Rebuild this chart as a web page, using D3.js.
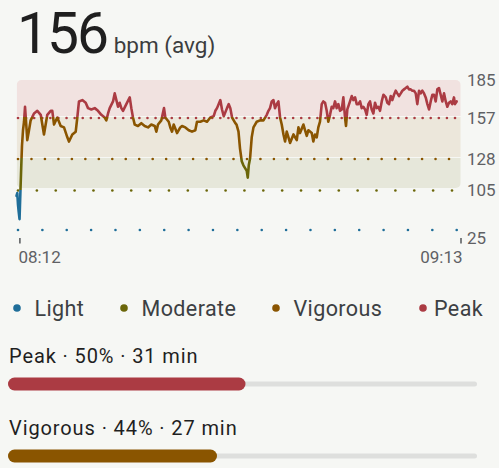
<!DOCTYPE html>
<html><head><meta charset="utf-8">
<script src="https://cdn.jsdelivr.net/npm/d3@7"></script>
<style>
html,body{margin:0;padding:0;background:#f6f7f4;}
svg{display:block;font-family:Roboto,"Noto Sans",sans-serif;}
</style>
</head><body>
<svg id="c" width="499" height="468"></svg>
<script>
// ---------- data ----------
const avgBpm = 156;
const zoneNames = ["Light", "Moderate", "Vigorous", "Peak"];
const zoneColors = ["#1f6e99", "#6b6609", "#8a5500", "#ab3b43"];
const zoneLower = [25, 105, 128, 157];
const axisMax = 185;
const yTickValues = [185, 157, 128, 105, 25];
const timeTicks = [12, 73];            // minutes after 08:00
const timeLabels = ["08:12", "09:13"];
const minutes = [11.53,11.64,11.74,11.84,11.95,12.01,12.08,12.15,12.22,12.29,12.43,12.57,12.71,12.84,13.02,13.26,13.49,13.95,14.41,14.88,15.33,15.79,16.26,16.48,16.72,17.17,17.64,18.10,18.56,18.79,19.25,19.72,19.94,20.17,20.63,21.10,21.42,21.88,22.35,22.80,23.26,23.73,23.95,24.19,24.42,24.88,25.11,25.57,25.80,26.03,26.26,26.72,27.19,27.41,27.64,27.88,28.33,28.79,29.26,29.72,30.17,30.64,30.87,31.10,31.56,31.93,32.11,32.58,32.80,33.04,33.27,33.73,34.18,34.42,34.88,35.35,35.80,36.26,36.49,36.95,37.42,37.88,38.33,38.80,39.03,39.26,39.72,39.95,40.19,40.64,40.88,41.10,41.34,41.57,41.79,41.96,42.23,42.44,42.68,42.91,43.14,43.37,43.51,43.65,43.83,44.06,44.30,44.52,44.75,45.21,45.68,46.14,46.37,46.59,46.83,47.06,47.28,47.52,47.75,47.98,48.21,48.45,48.67,48.90,49.14,49.36,49.83,50.29,50.52,50.74,51.21,51.43,51.67,51.90,52.36,52.58,52.81,53.05,53.27,53.50,53.74,53.96,54.20,54.43,54.65,54.89,55.12,55.34,55.58,55.81,56.04,56.27,56.51,56.73,56.96,57.10,57.28,57.65,57.89,58.11,58.35,58.58,58.80,59.04,59.27,59.49,59.73,59.96,60.19,60.42,60.65,60.88,61.11,61.35,61.57,61.80,62.04,62.27,62.60,62.81,63.05,63.28,63.50,63.74,63.97,64.19,64.43,64.67,64.89,65.12,65.36,65.58,65.81,66.05,66.27,66.50,66.74,66.96,67.20,67.43,67.65,67.89,68.12,68.35,68.58,68.81,69.04,69.27,69.50,69.73,69.96,70.19,70.42,70.65,70.89,71.11,71.34,71.57,71.79,72.03,72.16,72.40];
const bpm = [93,99,75,60,46,73,105,116,127,137,148,154,165,155,141,148,155,160,162,159,145,159,162,162,152,157,151,150,143,140,145,147,157,169,170,168,164,163,164,162,159,157,155,160,164,169,175,165,168,164,162,167,172,164,157,152,151,153,151,150,152,151,147,152,155,164,157,154,150,147,152,146,150,151,150,148,147,148,154,154,155,154,157,158,162,164,170,163,158,164,167,164,157,155,153,152,147,135,126,123,121,119,114,123,128,143,150,152,154,155,155,159,162,164,169,170,164,167,169,157,152,145,140,147,143,139,145,141,150,146,152,148,144,148,146,140,145,143,150,154,167,169,168,162,154,159,165,164,169,164,167,162,163,172,157,151,163,169,173,170,172,167,167,169,164,165,163,159,167,169,163,160,168,164,165,162,169,174,172,168,167,173,170,174,177,175,173,175,177,178,179,180,178,178,177,177,175,167,177,175,177,175,172,167,163,169,174,174,169,178,179,174,169,175,169,165,168,169,167,172,167,169];
const summaryZones = ["Peak", "Vigorous"];
const summaryPct = [50, 44];
const summaryMin = [31, 27];

// ---------- layout ----------
const svg = d3.select("#c");
const bandColors = ["none", "#e6e7da", "#ece7db", "#f1e2e0"];
const dotCounts = [19, 24, 33, 55];
const dotEnds = [456.7, 452, 449, 455];

const x = d3.scaleLinear().domain([11.6, 73]).range([17, 461]);
const y = d3.scaleLinear().domain([25, 105, 128, 157, 185]).range([229.5, 190, 158.5, 117.5, 80]);

// title
const title = svg.append("text").attr("x", 17).attr("y", 53);
title.append("tspan").text(avgBpm).attr("font-size", 57).attr("fill", "#1f1f1f").attr("letter-spacing", -2);
title.append("tspan").text(" bpm (avg)").attr("font-size", 22.5).attr("fill", "#3c3d3e").attr("dx", 1);

// bands
const defs = svg.append("defs");
defs.append("clipPath").attr("id", "bandClip").append("rect")
  .attr("x", 16.7).attr("y", y(axisMax)).attr("width", 460.7 - 16.7)
  .attr("height", y(105) - 2 - y(axisMax)).attr("rx", 5);
const bandG = svg.append("g").attr("clip-path", "url(#bandClip)");
for (let i = 1; i < 4; i++) {
  const top = i === 3 ? y(axisMax) : y(zoneLower[i + 1]) - 0.5;
  const bottom = y(zoneLower[i]) - 1.5;
  bandG.append("rect").attr("x", 16.7).attr("width", 444).attr("y", top)
    .attr("height", bottom - top).attr("fill", bandColors[i]);
}

// dotted threshold lines
zoneLower.forEach((t, i) => {
  const xs = d3.range(dotCounts[i]).map(k => 18 + k * (dotEnds[i] - 18) / (dotCounts[i] - 1));
  svg.append("g").selectAll("circle").data(xs).join("circle")
    .attr("cx", d => d).attr("cy", y(t) + 0.5).attr("r", 1.3).attr("fill", zoneColors[i]);
});

// gradient for line
const grad = defs.append("linearGradient").attr("id", "zoneGrad")
  .attr("gradientUnits", "userSpaceOnUse").attr("x1", 0).attr("x2", 0)
  .attr("y1", y(axisMax)).attr("y2", y(25));
const span = y(25) - y(axisMax);
const off = v => (y(v) - y(axisMax)) / span;
grad.append("stop").attr("offset", 0).attr("stop-color", zoneColors[3]);
for (let i = 3; i >= 1; i--) {
  grad.append("stop").attr("offset", off(zoneLower[i])).attr("stop-color", zoneColors[i]);
  grad.append("stop").attr("offset", off(zoneLower[i])).attr("stop-color", zoneColors[i - 1]);
}
grad.append("stop").attr("offset", 1).attr("stop-color", zoneColors[0]);

const series = minutes.map((m, i) => ({ m, v: bpm[i] }));
svg.append("path").datum(series)
  .attr("d", d3.line().x(d => x(d.m)).y(d => y(d.v)))
  .attr("fill", "none").attr("stroke", "url(#zoneGrad)")
  .attr("stroke-width", 2.6).attr("stroke-linejoin", "round").attr("stroke-linecap", "round");

// y labels
svg.append("g").selectAll("text").data(yTickValues).join("text")
  .attr("x", 467).attr("y", d => y(d) + (d === 25 ? 8 : 0))
  .attr("dy", "0.36em").attr("font-size", 17).attr("fill", "#5f6164").text(d => d);

// x ticks
svg.append("g").selectAll("line").data(timeTicks).join("line")
  .attr("x1", d => x(d)).attr("x2", d => x(d)).attr("y1", 238).attr("y2", 243.5)
  .attr("stroke", "#5f6164").attr("stroke-width", 1.6);
svg.append("g").selectAll("text").data(timeTicks).join("text")
  .attr("x", d => x(d)).attr("y", 263)
  .attr("text-anchor", (d, i) => i === 0 ? "start" : "end")
  .attr("dx", (d, i) => i === 0 ? -1.5 : 1.5)
  .attr("font-size", 17).attr("fill", "#5f6164").text((d, i) => timeLabels[i]);

// legend
const legendX = [17, 124, 276, 423];
const lg = svg.append("g").selectAll("g").data(zoneNames).join("g")
  .attr("transform", (d, i) => `translate(${legendX[i]},308)`);
lg.append("circle").attr("r", 3.8).attr("fill", (d, i) => zoneColors[i]);
lg.append("text").attr("x", (d, i) => i === 3 ? 11 : 17.5).attr("dy", "0.36em")
  .attr("font-size", 21.5).attr("letter-spacing", 0.4).attr("fill", "#3c4043").text(d => d);

// summary bars
const barX = d3.scaleLinear().domain([0, 100]).range([8, 483]);
const rowsY = [384, 456];
summaryZones.forEach((z, i) => {
  const ci = zoneNames.indexOf(z);
  svg.append("text").attr("x", 9).attr("y", rowsY[i] - 21)
    .attr("font-size", 20).attr("letter-spacing", 0.9).attr("fill", "#1f1f1f")
    .text(`${z} · ${summaryPct[i]}% · ${summaryMin[i]} min`);
  svg.append("rect").attr("x", 8).attr("y", rowsY[i] - 2.5).attr("width", 477 - 8)
    .attr("height", 5).attr("rx", 2.5).attr("fill", "#dedfdd");
  svg.append("rect").attr("x", barX(0)).attr("y", rowsY[i] - 6.5)
    .attr("width", barX(summaryPct[i]) - barX(0)).attr("height", 13).attr("rx", 6.5)
    .attr("fill", zoneColors[ci]);
});
</script>
</body></html>
